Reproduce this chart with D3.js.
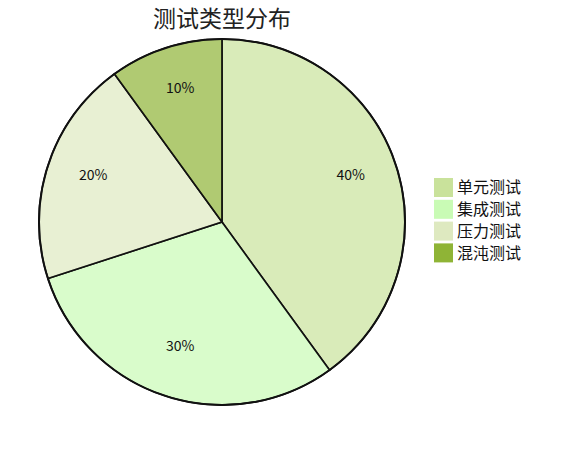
<!DOCTYPE html>
<html>
<head>
<meta charset="utf-8">
<script src="https://cdnjs.cloudflare.com/ajax/libs/d3/7.8.5/d3.min.js"></script>
<style>
    html, body { margin: 0; background: #fff; }
    svg { display: block; font-family: "Noto Sans CJK SC", "Noto Sans", sans-serif; }
</style>
</head>
<body>
<svg width="580" height="450"></svg>
<script>
    var categories = ["单元测试", "集成测试", "压力测试", "混沌测试"];
    var values = [40, 30, 20, 10];
    var colors = ["#c9e29b", "#c9fbb5", "#dee9c0", "#8fb436"];

    var svg = d3.select("svg");
    var cx = 222, cy = 222, radius = 183;

    svg.append("text")
        .attr("x", cx)
        .attr("y", 27)
        .attr("text-anchor", "middle")
        .style("font-size", "23px")
        .style("fill", "#222")
        .text("测试类型分布");

    var pie = d3.pie().sort(null).value(function(d){ return d; });
    var arc = d3.arc().innerRadius(0).outerRadius(radius);
    var labelArc = d3.arc().innerRadius(radius * 0.74).outerRadius(radius * 0.74);

    var g = svg.append("g").attr("transform", "translate(" + cx + "," + cy + ")");

    var slices = g.selectAll("g.slice")
        .data(pie(values))
        .enter()
        .append("g")
        .attr("class", "slice");

    slices.append("path")
        .attr("d", arc)
        .style("fill", function(d, i){ return colors[i]; })
        .style("fill-opacity", 0.7)
        .style("stroke", "#111")
        .style("stroke-width", 1.6);

    g.append("circle")
        .attr("r", radius)
        .style("fill", "none")
        .style("stroke", "#111")
        .style("stroke-width", 2);

    slices.append("text")
        .attr("transform", function(d){ return "translate(" + labelArc.centroid(d) + ")"; })
        .attr("dy", "-0.02em")
        .attr("text-anchor", "middle")
        .style("font-size", "14px")
        .style("fill", "#111")
        .text(function(d){ return d.data + "%"; });

    var legend = svg.append("g").attr("transform", "translate(434,178)");
    var items = legend.selectAll("g")
        .data(categories)
        .enter()
        .append("g")
        .attr("transform", function(d, i){ return "translate(0," + (i * 21.8) + ")"; });

    items.append("rect")
        .attr("width", 19)
        .attr("height", 19)
        .style("fill", function(d, i){ return colors[i]; });

    items.append("text")
        .attr("x", 23)
        .attr("y", 9.5)
        .attr("dy", "0.35em")
        .style("font-size", "16px")
        .style("fill", "#111")
        .text(function(d){ return d; });
</script>
</body>
</html>
